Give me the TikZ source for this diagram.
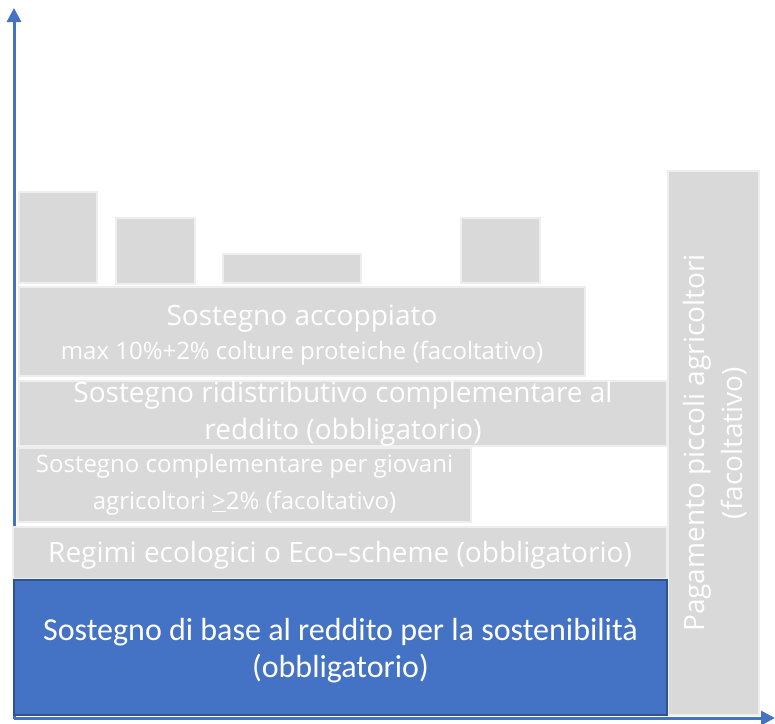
\documentclass[tikz,border=0pt]{standalone}
\usepackage{fontspec}
\usetikzlibrary{arrows.meta}
\newfontfamily\osans{Open Sans}
\newfontfamily\calib{Carlito}
\definecolor{gfill}{HTML}{D9D9D9}
\definecolor{gedge}{HTML}{EEEEEE}
\definecolor{bfill}{HTML}{4472C4}
\definecolor{bedge}{HTML}{2F528F}
\definecolor{axisc}{HTML}{4472C4}
\tikzset{
  gbox/.style={rectangle, anchor=north west, fill=gfill, draw=gedge, line width=1.5pt,
    inner sep=0pt, outer sep=0pt, text=white, align=center, font=\osans\fontsize{28}{37}\selectfont},
  bbox/.style={rectangle, anchor=north west, fill=bfill, draw=bedge, line width=1.5pt,
    inner sep=0pt, outer sep=0pt, text=white, align=center, font=\calib\fontsize{32}{36}\selectfont},
  boxtext/.style={text=white, align=center, inner sep=0pt},
  axisline/.style={draw=axisc, line width=3pt, -{Triangle[width=14pt,length=14pt]}}
}
\begin{document}
\begin{tikzpicture}[x=1pt,y=-1pt]
\useasboundingbox (0,0) rectangle (775,723);
% axes
\coordinate (o) at (14,718);
\coordinate (ytop) at (14,8);
\coordinate (xend) at (775,718);
\draw[axisline] (14,719) -- (ytop);
\draw[axisline] (o) -- (xend);
% top small boxes
\node[gbox, minimum width=78pt, minimum height=91pt] (b1) at (19,192) {};
\node[gbox, minimum width=79pt, minimum height=66pt] (b2) at (116,218) {};
\node[gbox, minimum width=138pt, minimum height=29pt] (b3) at (223,254) {};
\node[gbox, minimum width=79pt, minimum height=65pt] (b4) at (461,218) {};
% pagamento
\node[gbox, minimum width=91pt, minimum height=544pt] (pag) at (668,171) {};
\node[boxtext, rotate=90, font=\osans\fontsize{28}{38}\selectfont] (pagt) at ([xshift=2pt]pag.center) {Pagamento piccoli agricoltori\\(facoltativo)};
% stacked layers
\node[gbox, minimum width=566pt, minimum height=89pt] (acc) at (19,287) {};
\node[boxtext, font=\osans\fontsize{28}{37}\selectfont] (acct) at ([yshift=-4pt]acc.center) {Sostegno accoppiato\\[-3pt]{\fontsize{24}{26}\selectfont max 10\%+2\% colture proteiche (facoltativo)}};
\node[gbox, minimum width=648pt, minimum height=64pt] (rid) at (19,381) {Sostegno ridistributivo complementare al\\reddito (obbligatorio)};
\node[gbox, minimum width=453pt, minimum height=74pt, font=\osans\fontsize{24}{37}\selectfont] (gio) at (18,448) {Sostegno complementare per giovani\\agricoltori \underline{>}2\% (facoltativo)};
\node[gbox, minimum width=654pt, minimum height=52pt] (reg) at (13,527) {};
\node[boxtext, font=\osans\fontsize{28}{37}\selectfont] (regt) at ([yshift=-2pt]reg.center) {Regimi ecologici o Eco–scheme (obbligatorio)};
\node[bbox, minimum width=653pt, minimum height=135pt] (base) at (14,580) {};
\node[boxtext, font=\calib\fontsize{32}{37}\selectfont] (baset) at ([yshift=-3pt]base.center) {Sostegno di base al reddito per la sostenibilità\\(obbligatorio)};
\end{tikzpicture}
\end{document}
